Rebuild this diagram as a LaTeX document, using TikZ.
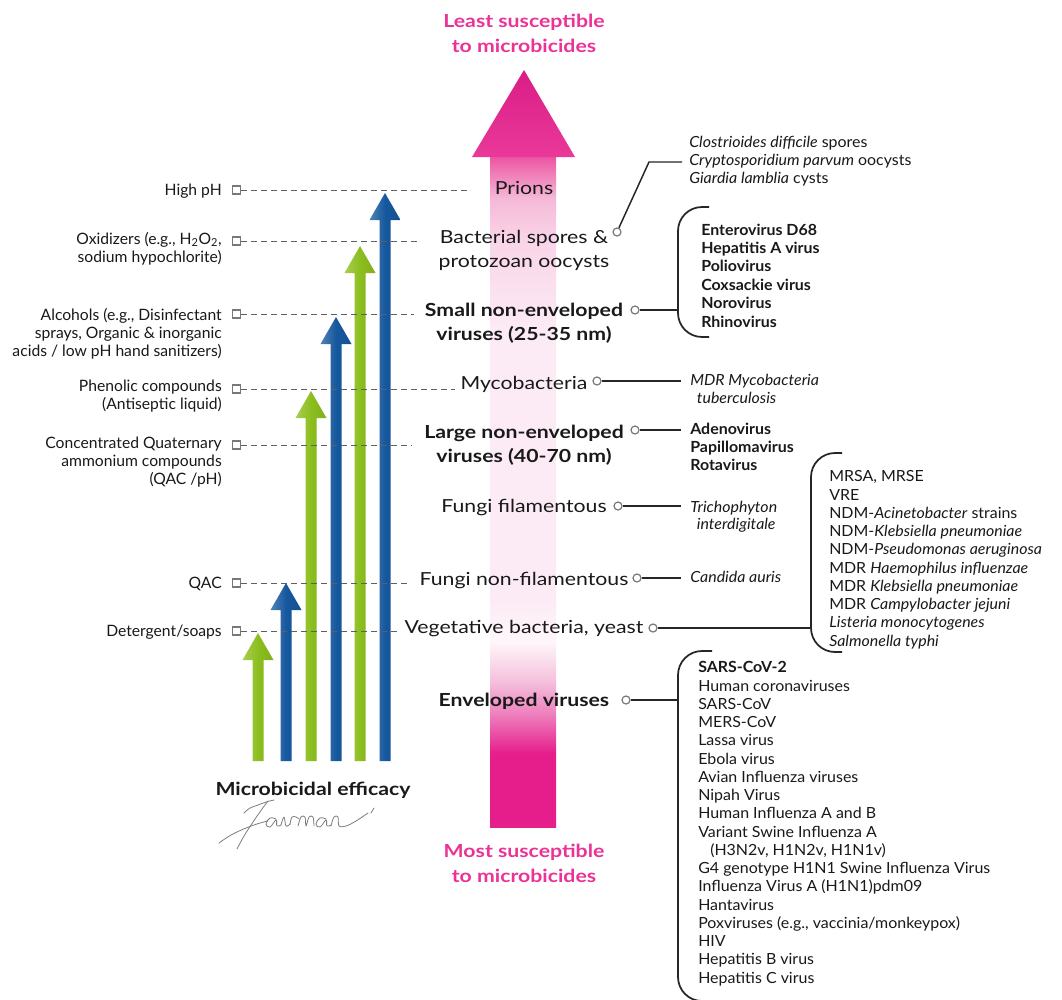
\documentclass[tikz,border=0pt]{standalone}
\usepackage{fontspec}
\setmainfont{Lato}
\newfontfamily\widef[FakeStretch=1.18]{Lato}
\newfontfamily\listf[FakeStretch=1.04]{Lato}
\usetikzlibrary{calc}
\definecolor{pinkc}{RGB}{230,30,140}
\definecolor{pinktxt}{RGB}{235,50,150}
\definecolor{pone}{RGB}{238,130,190}
\definecolor{ptwo}{RGB}{245,195,222}
\definecolor{pwhite}{RGB}{254,246,250}
\definecolor{pw}{RGB}{252,235,245}
\definecolor{pthree}{RGB}{249,212,232}
\definecolor{pfour}{RGB}{245,185,215}
\definecolor{pfive}{RGB}{236,85,162}
\definecolor{gr}{RGB}{140,190,30}
\definecolor{bl}{RGB}{22,88,158}
\definecolor{txt}{RGB}{25,25,25}
\definecolor{dashc}{RGB}{95,95,95}
\definecolor{circc}{RGB}{120,120,120}
\definecolor{sigc}{RGB}{125,125,125}
\pgfdeclareverticalshading{pinkbar}{100bp}{color(0bp)=(pinkc); color(25bp)=(pinkc); color(30.5bp)=(pinkc); color(33.5bp)=(pone); color(36bp)=(ptwo); color(38.8bp)=(pwhite); color(42bp)=(pw); color(62bp)=(pw); color(68.9bp)=(pthree); color(71.9bp)=(pfour); color(75bp)=(pfive); color(100bp)=(pfive)}
\tikzset{
  leftlab/.style={font=\fontsize{11.75}{13.8}\selectfont, text=txt, inner sep=0pt, align=right, anchor=base east},
  midlab/.style={font=\widef\fontsize{13.5}{18}\selectfont, text=txt, inner sep=0pt, align=center, anchor=base},
  midlabb/.style={font=\widef\fontsize{13.5}{18}\selectfont\bfseries, text=txt, inner sep=0pt, align=center, anchor=base},
  lst/.style={font=\listf\fontsize{11.5}{13.68}\selectfont, text=txt, inner sep=0pt, align=left, anchor=base west},
  lstb/.style={font=\listf\fontsize{11.5}{13.8}\selectfont\bfseries, text=txt, inner sep=0pt, align=left, anchor=base west},
  sq/.style={rectangle, draw=circc, fill=white, line width=0.8pt, minimum size=6pt, inner sep=0pt},
  ring/.style={circle, draw=circc, fill=white, line width=0.9pt, minimum size=6pt, inner sep=0pt},
  conn/.style={draw=black!85, line width=1.1pt},
  brk/.style={draw=black!85, line width=1.3pt, rounded corners=18pt},
  dsh/.style={draw=dashc, dash pattern=on 4.5pt off 3pt, line width=0.7pt},
  ttl/.style={font=\widef\fontsize{13.5}{18.75}\selectfont\bfseries, text=pinktxt, align=center, anchor=base, inner sep=0pt},
  sig/.style={draw=sigc, line width=0.6pt, line cap=round, line join=round},
}
\begin{document}
\begin{tikzpicture}[x=0.75pt,y=-0.75pt]
\useasboundingbox[fill=white] (0,0) rectangle (1062,999);

% ---------- big pink arrow ----------
\shade[shading=pinkbar] (490,157) rectangle (556,827);
\shade[top color=pinkc!95!black, bottom color=pinkc!88!white] (472,157) -- (524,70) -- (575,157) -- cycle;

% ---------- titles (anchor = baseline of last line) ----------
\node[ttl] (least) at (524,53) {Least susceptible\\to microbicides};
\node[ttl] (most) at (524,882) {Most susceptible\\to microbicides};

% ---------- efficacy arrows ----------
\foreach \xx/\tip/\cc in {258/633/gr, 286/583/bl, 311/391/gr, 336/317/bl, 360/246/gr, 385/193/bl}{
  \shade[left color=\cc!75!white, right color=\cc!92!black, middle color=\cc]
    ({\xx-5.5},761) -- ({\xx-5.5},{\tip+27}) -- ({\xx-15.5},{\tip+27}) -- (\xx,\tip)
    -- ({\xx+15.5},{\tip+27}) -- ({\xx+5.5},{\tip+27}) -- ({\xx+5.5},761) -- cycle;
}

% ---------- left labels ----------
\node[leftlab] (lhigh) at (222,195) {High pH};
\node[leftlab] (lox) at (222,262.4) {Oxidizers (e.g., H\textsubscript{2}O\textsubscript{2},\\sodium hypochlorite)};
\node[leftlab] (lalc) at (222,356.8) {Alcohols (e.g., Disinfectant\\sprays, Organic \& inorganic\\acids / low pH hand sanitizers)};
\node[leftlab] (lphen) at (222,409.4) {Phenolic compounds\\(Antiseptic liquid)};
\node[leftlab] (lcq) at (222,484.8) {Concentrated Quaternary\\ammonium compounds\\(QAC /pH)};
\node[leftlab] (lqac) at (222,588) {QAC};
\node[leftlab] (ldet) at (222,636) {Detergent/soaps};

\node[sq] (shigh) at (236.5,190) {};
\node[sq] (sox) at (236.5,241) {};
\node[sq] (salc) at (236.5,314) {};
\node[sq] (sphen) at (236.5,389) {};
\node[sq] (scq) at (236.5,445) {};
\node[sq] (sqac) at (236.5,583) {};
\node[sq] (sdet) at (236.5,631) {};

\coordinate (ehigh) at (468,190);
\coordinate (eox) at (417,241);
\coordinate (ealc) at (414,314);
\coordinate (ephen) at (455,389);
\coordinate (ecq) at (412,445);
\coordinate (eqac) at (410,583);
\coordinate (edet) at (397,631);
\draw[dsh] (shigh.east) -- (ehigh);
\draw[dsh] (sox.east) -- (eox);
\draw[dsh] (salc.east) -- (ealc);
\draw[dsh] (sphen.east) -- (ephen);
\draw[dsh] (scq.east) -- (ecq);
\draw[dsh] (sqac.east) -- (eqac);
\draw[dsh] (sdet.east) -- (edet);

\node[font=\widef\fontsize{13.5}{16}\selectfont\bfseries, text=txt, anchor=base, inner sep=0pt] (eff) at (313,795) {Microbicidal efficacy};

% ---------- signature ----------
\draw[sig] plot[smooth, tension=0.6] coordinates {(244,813) (250,808) (258,805) (266,802) (274,800)};
\draw[sig] plot[smooth, tension=0.6] coordinates {(268,801) (262,809) (253,822) (244,836) (237,849)};
\draw[sig] plot[smooth, tension=0.6] coordinates {(219,843) (231,835) (246,828) (260,823) (268,821)};
% a
\draw[sig] plot[smooth, tension=0.7] coordinates {(276,819) (270,818) (266,824) (270,827) (276,820) (277,826) (281,825)};
% i
\draw[sig] plot[smooth, tension=0.6] coordinates {(281,825) (284,817) (286,826) (290,824)};
% r
\draw[sig] plot[smooth, tension=0.6] coordinates {(290,824) (292,817) (296,817) (299,819)};
% m
\draw[sig] plot[smooth, tension=0.55] coordinates {(298,826) (301,817) (305,817) (306,826) (309,817) (313,817) (314,826)};
% a
\draw[sig] plot[smooth, tension=0.7] coordinates {(326,819) (320,818) (316,824) (320,827) (326,820) (327,826) (331,825)};
% n and tail
\draw[sig] plot[smooth, tension=0.6] coordinates {(331,826) (334,817) (338,817) (339,826) (346,826) (356,821) (368,813)};
\draw[sig] (371,813) -- (374,808);

% ---------- middle labels ----------
\node[midlab] (prions) at (524,194) {Prions};
\node[midlab] (bac) at (524,267) {Bacterial spores \&\\protozoan oocysts};
\node[midlabb] (small) at (524,340) {Small non-enveloped\\viruses (25-35 nm)};
\node[midlab] (myco) at (524,389) {Mycobacteria};
\node[midlabb] (large) at (524,462) {Large non-enveloped\\viruses (40-70 nm)};
\node[midlab] (ffil) at (524,512) {Fungi filamentous};
\node[midlab] (fnon) at (524,585) {Fungi non-filamentous};
\node[midlab] (veg) at (524,633) {Vegetative bacteria, yeast};
\node[midlabb] (env) at (524,706) {Enveloped viruses};

\node[ring] (bacC) at (617,232) {};
\node[ring] (smallC) at (635,310) {};
\node[ring] (mycoC) at (597,381) {};
\node[ring] (largeC) at (635,430) {};
\node[ring] (ffilC) at (618,506) {};
\node[ring] (fnonC) at (637,578) {};
\node[ring] (vegC) at (653,628) {};
\node[ring] (envC) at (626,700) {};

% ---------- connectors ----------
\coordinate (bacK) at (649,162);
\coordinate (bacE) at (682,162);
\draw[conn] (bacC) -- (bacK) -- (bacE);

\coordinate (smallB) at (678,310);
\draw[brk] (709,207) -- (678,207) -- (678,337) -- (709,337);
\draw[conn] (smallC.east) -- (smallB);

\coordinate (mycoE) at (681,381);
\coordinate (largeE) at (681,430);
\coordinate (ffilE) at (681,506);
\coordinate (fnonE) at (681,578);
\draw[conn] (mycoC.east) -- (mycoE);
\draw[conn] (largeC.east) -- (largeE);
\draw[conn] (ffilC.east) -- (ffilE);
\draw[conn] (fnonC.east) -- (fnonE);

\coordinate (vegB) at (811,628);
\draw[brk] (842,453) -- (811,453) -- (811,652) -- (842,652);
\draw[conn] (vegC.east) -- (vegB);

\coordinate (envB) at (678,700);
\draw[brk] (712,651) -- (678,651) -- (678,1001) -- (712,1001);
\draw[conn] (envC.east) -- (envB);

% ---------- right lists (anchor = baseline of last line) ----------
\node[lst, font=\listf\fontsize{11.5}{13.5}\selectfont] (lbac) at (689,183) {\textit{Clostrioides difficile} spores\\\textit{Cryptosporidium parvum} oocysts\\\textit{Giardia lamblia} cysts};
\node[lstb] (lsmall) at (701,327) {Enterovirus D68\\Hepatitis A virus\\Poliovirus\\Coxsackie virus\\Norovirus\\Rhinovirus};
\node[lst, font=\listf\fontsize{11.5}{13.5}\selectfont] (lmyco) at (690,403) {\textit{MDR Mycobacteria}\\\hspace*{5pt}\textit{tuberculosis}};
\node[lstb] (llarge) at (690,470.8) {Adenovirus\\Papillomavirus\\Rotavirus};
\node[lst, font=\listf\fontsize{11.5}{12.75}\selectfont] (lffil) at (690,529) {\textit{Trichophyton}\\\hspace*{5pt}\textit{interdigitale}};
\node[lst] (lfnon) at (690,582) {\textit{Candida auris}};
\node[lst, font=\listf\fontsize{11.5}{13.67}\selectfont] (lveg) at (829,646) {MRSA, MRSE\\VRE\\NDM-\textit{Acinetobacter} strains\\NDM-\textit{Klebsiella pneumoniae}\\NDM-\textit{Pseudomonas aeruginosa}\\MDR \textit{Haemophilus influenzae}\\MDR \textit{Klebsiella pneumoniae}\\MDR \textit{Campylobacter jejuni}\\\textit{Listeria monocytogenes}\\\textit{Salmonella typhi}};
\node[lst] (lenv) at (698,983) {\textbf{SARS-CoV-2}\\Human coronaviruses\\SARS-CoV\\MERS-CoV\\Lassa virus\\Ebola virus\\Avian Influenza viruses\\Nipah Virus\\Human Influenza A and B\\Variant Swine Influenza A\\\hspace*{9pt}(H3N2v, H1N2v, H1N1v)\\G4 genotype H1N1 Swine Influenza Virus\\Influenza Virus A (H1N1)pdm09\\Hantavirus\\Poxviruses (e.g., vaccinia/monkeypox)\\HIV\\Hepatitis B virus\\Hepatitis C virus};
\end{tikzpicture}
\end{document}
